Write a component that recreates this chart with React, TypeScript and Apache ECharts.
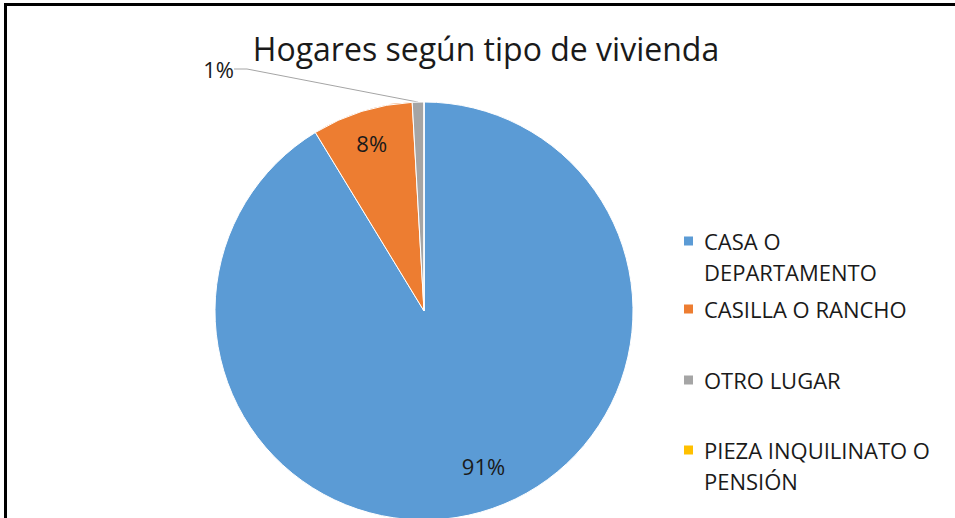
import React, { useEffect, useRef } from "react";
import * as echarts from "echarts";

const titleText = "Hogares según tipo de vivienda";
const categories = [
  "CASA O DEPARTAMENTO",
  "CASILLA O RANCHO",
  "OTRO LUGAR",
  "PIEZA INQUILINATO O PENSIÓN",
];
const legendLines = [
  ["CASA O", "DEPARTAMENTO"],
  ["CASILLA O RANCHO"],
  ["OTRO LUGAR"],
  ["PIEZA INQUILINATO O", "PENSIÓN"],
];
const values = [91.3, 7.8, 0.9, 0];
const colors = ["#5B9BD5", "#ED7D31", "#A5A5A5", "#FFC000"];

const FONT = "Open Sans";
const LEGEND_ICON_Y = [241, 309, 380, 450];
const LINE_H = 31;
const TXT = 22;

const pct = (p: any) => Math.round(p.percent) + "%";

export default function App() {
  const ref = useRef<HTMLDivElement>(null);
  useEffect(() => {
    if (!ref.current) return;
    const chart = echarts.init(ref.current, undefined, { renderer: "svg" });

    const legends = categories.map((name, i) => {
      const lines = legendLines[i];
      const text = lines.length > 1 ? "\n" + lines.join("\n") : lines[0];
      const nLines = lines.length > 1 ? 3 : 1;
      return {
        orient: "vertical",
        left: 682,
        top: LEGEND_ICON_Y[i] - (nLines * LINE_H) / 2,
        padding: 0,
        itemWidth: 11,
        itemHeight: 11,
        icon: "rect",
        selectedMode: false,
        data: [{ name, itemStyle: { color: colors[i] } }],
        formatter: () => text,
        textStyle: {
          fontFamily: FONT,
          fontSize: TXT,
          color: "#1a1a1a",
          lineHeight: LINE_H,
          padding: [0, 0, 0, 5],
        },
      };
    });

    const option: any = {
      animation: false,
      backgroundColor: "#fff",
      graphic: [
        {
          type: "polyline",
          shape: { points: [[5.5, 520], [5.5, 4.5], [960, 4.5]] },
          style: { stroke: "#000", lineWidth: 3, fill: "none" },
          silent: true,
        },
        {
          type: "text",
          x: 486,
          y: 48,
          style: {
            text: titleText,
            fontFamily: FONT,
            fontSize: 32,
            fill: "#1a1a1a",
            align: "center",
            verticalAlign: "middle",
          },
          silent: true,
        },
      ],
      legend: legends,
      series: [
        {
          type: "pie",
          center: [424, 311],
          radius: 209,
          startAngle: 90,
          clockwise: true,
          avoidLabelOverlap: false,
          itemStyle: { borderColor: "#fff", borderWidth: 1 },
          emphasis: { disabled: true },
          label: { show: false },
          labelLine: { show: false },
          data: categories.map((name, i) => ({
            name,
            value: values[i],
            itemStyle: { color: colors[i] },
            label:
              i === 2
                ? {
                    show: true,
                    position: "outside",
                    formatter: pct,
                    fontFamily: FONT,
                    fontSize: TXT,
                    color: "#1a1a1a",
                  }
                : { show: false },
            labelLine:
              i === 2
                ? {
                    show: true,
                    length: 20,
                    length2: 13,
                    lineStyle: { color: "#A5A5A5", width: 1 },
                  }
                : { show: false },
          })),
          labelLayout: (p: any) =>
            p.dataIndex === 2
              ? { x: 234, y: 69, align: "right", verticalAlign: "middle" }
              : {},
        },
        {
          type: "pie",
          center: [424, 311],
          radius: [150, 196],
          startAngle: 90,
          clockwise: true,
          silent: true,
          avoidLabelOverlap: false,
          itemStyle: { color: "rgba(0,0,0,0)" },
          emphasis: { disabled: true },
          labelLine: { show: false },
          label: {
            show: true,
            position: "inside",
            formatter: pct,
            fontFamily: FONT,
            fontSize: TXT,
            color: "#1a1a1a",
          },
          data: categories.map((name, i) => ({
            name,
            value: values[i],
            label: { show: i < 2 },
          })),
          labelLayout: (p: any) =>
            p.dataIndex === 0 ? { dx: 12, dy: -14 } : {},
        },
      ],
    };
    chart.setOption(option);
    return () => chart.dispose();
  }, []);
  return (
    <div
      ref={ref}
      style={{ position: "absolute", left: 0, top: 0, width: 955, height: 518 }}
    />
  );
}
